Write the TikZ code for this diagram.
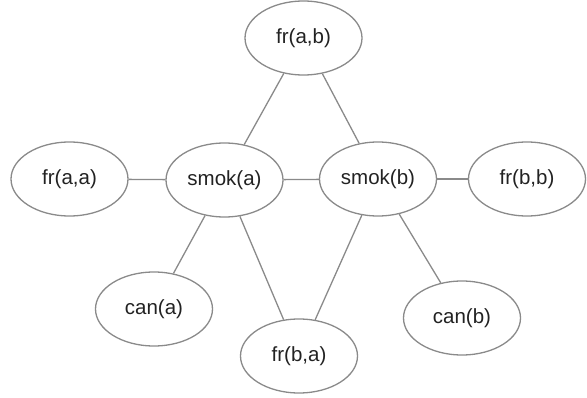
\documentclass[tikz,border=0pt]{standalone}
\usepackage{fontspec}
\setmainfont{Liberation Sans}
\usetikzlibrary{shapes.geometric}
\definecolor{edgegray}{HTML}{8A8A8A}
\definecolor{labelink}{HTML}{222222}
\begin{document}
\begin{tikzpicture}[x=1pt,y=-1pt,
  atom/.style={ellipse,draw=edgegray,line width=1.3pt,minimum width=117pt,minimum height=74pt,
    inner sep=0pt,text=labelink,font=\fontsize{20.5}{24}\selectfont},
  link/.style={draw=edgegray,line width=1.3pt}]
\useasboundingbox (0,0) rectangle (587,398);
\node[atom] (frab) at (303.5,38) {fr(a,b)};
\node[atom] (fraa) at (69.5,179) {fr(a,a)};
\node[atom] (smoka) at (224.5,180) {smok(a)};
\node[atom] (smokb) at (378,179) {smok(b)};
\node[atom] (frbb) at (527,179) {fr(b,b)};
\node[atom] (cana) at (154,309) {can(a)};
\node[atom] (frba) at (299,356) {fr(b,a)};
\node[atom] (canb) at (462,318) {can(b)};
\draw[link] (frab) -- (smoka);
\draw[link] (frab) -- (smokb);
\draw[link] (fraa) -- (smoka);
\draw[link] (smoka) -- (smokb);
\draw[link] (smokb) -- (frbb);
\draw[link] (smoka) -- (cana);
\draw[link] (smoka) -- (frba);
\draw[link] (smokb) -- (frba);
\draw[link] (smokb) -- (canb);
\end{tikzpicture}
\end{document}
